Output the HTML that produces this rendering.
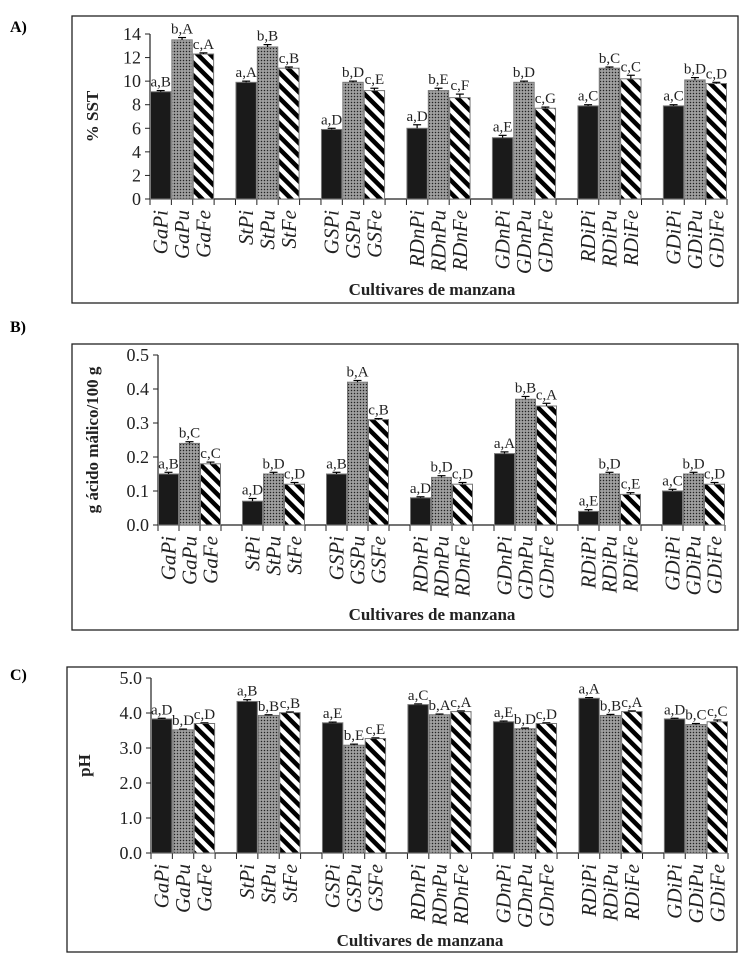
<!DOCTYPE html>
<html><head><meta charset="utf-8"><style>
body{margin:0;background:#fff}
svg{display:block;font-family:"Liberation Serif",serif}
</style></head><body>
<svg id="c" width="747" height="962" viewBox="0 0 747 962">
<defs>
<pattern id="dots" width="3" height="3" patternUnits="userSpaceOnUse"><rect width="3" height="3" fill="#8a8a8a"/><rect width="1" height="1" fill="#222"/><rect x="1.5" y="1.5" width="1" height="1" fill="#ddd"/></pattern>
<pattern id="stripes" width="9" height="9" patternUnits="userSpaceOnUse" patternTransform="rotate(-45)"><rect width="9" height="9" fill="#fff"/><rect width="4.5" height="9" fill="#000"/></pattern>
</defs>
</svg>
<script>
const categories=["Ga","St","GS","RDn","GDn","RDi","GDi"];
const treatments=["Pi","Pu","Fe"];
const sstValues=[[9.1,13.5,12.3],[9.9,12.9,11.1],[5.9,9.9,9.2],[6.0,9.2,8.6],[5.2,9.9,7.7],[7.9,11.1,10.2],[7.9,10.1,9.8]];
const sstErr=[[0.1,0.2,0.1],[0.1,0.2,0.1],[0.1,0.1,0.2],[0.3,0.2,0.3],[0.2,0.1,0.1],[0.1,0.1,0.3],[0.1,0.2,0.1]];
const sstLabels=[["a,B","b,A","c,A"],["a,A","b,B","c,B"],["a,D","b,D","c,E"],["a,D","b,E","c,F"],["a,E","b,D","c,G"],["a,C","b,C","c,C"],["a,C","b,D","c,D"]];
const acidValues=[[0.15,0.24,0.18],[0.07,0.15,0.12],[0.15,0.42,0.31],[0.08,0.14,0.12],[0.21,0.37,0.35],[0.04,0.15,0.09],[0.10,0.15,0.12]];
const acidErr=[[0.005,0.005,0.005],[0.008,0.005,0.005],[0.005,0.005,0.003],[0.003,0.005,0.005],[0.005,0.008,0.008],[0.005,0.005,0.005],[0.005,0.005,0.005]];
const acidLabels=[["a,B","b,C","c,C"],["a,D","b,D","c,D"],["a,B","b,A","c,B"],["a,D","b,D","c,D"],["a,A","b,B","c,A"],["a,E","b,D","c,E"],["a,C","b,D","c,D"]];
const phValues=[[3.83,3.52,3.70],[4.33,3.93,4.01],[3.72,3.08,3.27],[4.24,3.95,4.04],[3.75,3.55,3.70],[4.42,3.93,4.04],[3.83,3.67,3.75]];
const phErr=[[0.02,0.02,0.02],[0.05,0.02,0.02],[0.02,0.03,0.02],[0.02,0.02,0.02],[0.02,0.02,0.02],[0.02,0.03,0.02],[0.02,0.03,0.05]];
const phLabels=[["a,D","b,D","c,D"],["a,B","b,B","c,B"],["a,E","b,E","c,E"],["a,C","b,A","c,A"],["a,E","b,D","c,D"],["a,A","b,B","c,A"],["a,D","b,C","c,C"]];
const sstTicks=[0,2,4,6,8,10,12,14];
const acidTicks=["0.0","0.1","0.2","0.3","0.4","0.5"];
const phTicks=["0.0","1.0","2.0","3.0","4.0","5.0"];
const svg=document.getElementById('c');
const NS="http://www.w3.org/2000/svg";
function mk(tag,attrs,parent){const e=document.createElementNS(NS,tag);for(const k in attrs)e.setAttribute(k,attrs[k]);(parent||svg).appendChild(e);return e;}
const fills=["#1a1a1a","url(#dots)","url(#stripes)"];
function panel(p){
  const g=mk('g',{});
  
  
  const fr=mk('rect',{x:p.fx,y:p.fy,width:p.fw,height:p.fh,fill:'none',stroke:'#222','stroke-width':1.3},g);
  
  
  const pl=mk('text',{x:10,y:p.ly,'font-size':16,'font-weight':'bold'},g);pl.textContent=p.letter;
  
  
  const slot=(p.x1-p.x0)/27;
  const ys=v=>p.y0-(v/p.max)*(p.y0-p.yt);
  const xs=(gi,ti)=>p.x0+(gi*4+ti)*slot;
  mk('line',{x1:p.x0,y1:p.yt,x2:p.x0,y2:p.y0,stroke:'#222','stroke-width':1.2},g);
  mk('line',{x1:p.x0,y1:p.y0,x2:p.x1,y2:p.y0,stroke:'#222','stroke-width':1.2},g);
  p.ticks.forEach(t=>{const y=ys(parseFloat(t));
    mk('line',{x1:p.x0-5,y1:y,x2:p.x0,y2:y,stroke:'#222'},g);
    const tl=mk('text',{x:p.x0-9,y:y+6,'font-size':18,'text-anchor':'end',fill:'#222'},g);tl.textContent=t;
    
    
  });
  for(let i=0;i<=27;i++){const x=p.x0+i*slot;mk('line',{x1:x,y1:p.y0,x2:x,y2:p.y0+6,stroke:'#222'},g);}
  p.vals.forEach((row,gi)=>row.forEach((v,ti)=>{
    const x=xs(gi,ti),y=ys(v),w=slot;
    const b=mk('rect',{x:x+0.5,y:y,width:w-1,height:p.y0-y,fill:fills[ti],stroke:'#777','stroke-width':1},g);
    
    
    const ye=ys(v+p.err[gi][ti]);
    mk('line',{x1:x+w/2,y1:y,x2:x+w/2,y2:ye,stroke:'#000','stroke-width':1.2},g);
    mk('line',{x1:x+w/2-4,y1:ye,x2:x+w/2+4,y2:ye,stroke:'#000','stroke-width':1.2},g);
    const lt=mk('text',{x:x+w/2,y:ye-4,'font-size':15,'text-anchor':'middle',fill:'#222'},g);lt.textContent=p.labels[gi][ti];
    
    
    const xl=mk('text',{transform:`translate(${x+w/2+7},${p.y0+11}) rotate(-90)`,'font-size':21,'font-style':'italic','text-anchor':'end',fill:'#222'},g);
    xl.textContent=categories[gi]+treatments[ti];
    
    
  }));
  const xt=mk('text',{x:p.tx,y:p.ty,'font-size':17,'font-weight':'bold','text-anchor':'middle',fill:'#222'},g);xt.textContent="Cultivares de manzana";
  
  
  const yt=mk('text',{transform:`translate(${p.yx},${(p.y0+p.yt)/2}) rotate(-90)`,'font-size':17,'font-weight':'bold','text-anchor':'middle',fill:'#222'},g);yt.textContent=p.ytitle;
  
  
}
panel({name:'panel-a-sst',letter:'A)',ly:32,fx:72,fy:16,fw:666,fh:287,x0:150,x1:727,y0:199,yt:34,max:14,ticks:sstTicks.map(String),vals:sstValues,err:sstErr,labels:sstLabels,tx:432,ty:295,yx:98,ytitle:'% SST'});
panel({name:'panel-b-acidity',letter:'B)',ly:332,fx:72,fy:344,fw:666,fh:286,x0:158,x1:725,y0:525,yt:355,max:0.5,ticks:acidTicks,vals:acidValues,err:acidErr,labels:acidLabels,tx:432,ty:620,yx:98,ytitle:'g ácido málico/100 g'});
panel({name:'panel-c-ph',letter:'C)',ly:680,fx:67,fy:667,fw:670,fh:285,x0:151,x1:728,y0:853,yt:678,max:5,ticks:phTicks,vals:phValues,err:phErr,labels:phLabels,tx:420,ty:946,yx:90,ytitle:'pH'});
</script>
</body></html>
